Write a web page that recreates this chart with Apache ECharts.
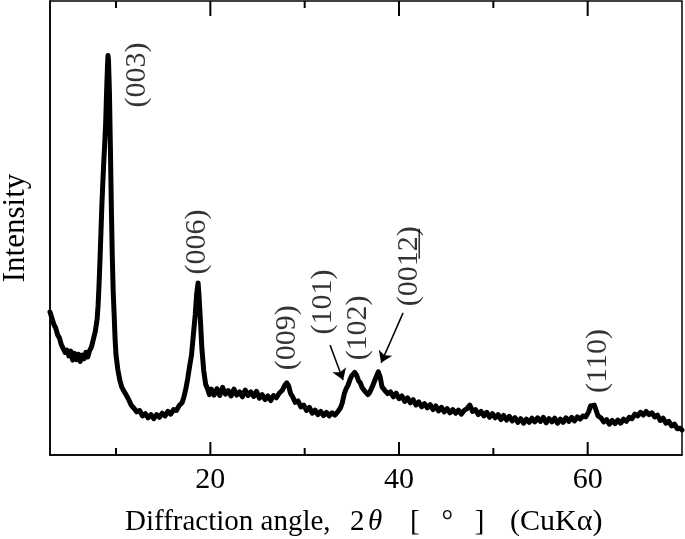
<!DOCTYPE html>
<html>
<head>
<meta charset="utf-8">
<script src="https://cdn.jsdelivr.net/npm/echarts@6/dist/echarts.min.js"></script>
<style>
  html, body { margin: 0; padding: 0; background: #fff; }
  #chart { width: 685px; height: 539px; }
</style>
</head>
<body>
<div id="chart"></div>
<script>
// XRD scan, [2theta (deg), intensity (a.u.)]
const scanPoints = [
  [3.0,31.5],[3.2,30.2],[3.4,28.8],[3.6,28.0],[3.8,26.5],[4.0,25.8],[4.2,24.3],[4.4,24.0],
  [4.6,22.6],[4.8,23.1],[5.0,21.8],[5.2,22.9],[5.4,20.9],[5.6,22.4],[5.8,21.0],[6.0,22.2],
  [6.2,20.6],[6.4,22.0],[6.6,21.2],[6.8,22.6],[7.0,21.6],[7.2,23.0],[7.4,23.8],[7.6,25.5],
  [7.8,27.2],[8.0,30.0],[8.1,33.0],[8.2,37.5],[8.3,43.0],[8.4,49.0],[8.5,55.0],[8.6,60.0],
  [8.7,64.5],[8.8,68.5],[8.9,73.0],[9.0,80.0],[9.1,86.0],[9.15,88.0],[9.2,87.0],[9.3,80.0],
  [9.4,68.0],[9.5,55.0],[9.6,44.0],[9.7,36.0],[9.8,31.0],[9.9,25.5],[10.0,22.0],[10.2,18.7],
  [10.4,16.5],[10.6,15.0],[10.8,14.2],[11.0,13.5],[11.3,12.4],[11.6,11.0],[11.9,10.3],[12.2,9.5],
  [12.5,9.8],[12.8,8.6],[13.1,9.1],[13.4,8.2],[13.7,8.9],[14.0,8.0],[14.3,8.9],[14.6,8.3],
  [14.9,9.2],[15.2,8.6],[15.5,9.6],[15.8,9.0],[16.1,10.0],[16.4,9.8],[16.7,10.9],[17.0,11.5],
  [17.2,12.8],[17.4,14.6],[17.6,16.8],[17.8,19.5],[18.0,22.0],[18.2,26.5],[18.4,31.0],[18.55,35.5],
  [18.7,37.9],[18.8,35.0],[18.95,29.5],[19.1,23.5],[19.3,18.5],[19.5,15.6],[19.7,14.6],[19.9,13.3],
  [20.1,14.5],[20.4,13.2],[20.7,14.6],[21.0,13.1],[21.3,14.9],[21.6,13.4],[21.9,14.2],[22.2,13.0],
  [22.5,14.5],[22.8,13.2],[23.1,13.9],[23.4,12.8],[23.7,14.3],[24.0,13.1],[24.3,13.9],[24.6,12.9],
  [24.9,14.0],[25.2,12.5],[25.5,13.3],[25.8,12.2],[26.1,13.0],[26.4,12.0],[26.7,13.1],[27.0,12.6],
  [27.3,13.6],[27.6,14.2],[27.9,15.4],[28.1,15.9],[28.3,15.2],[28.5,13.6],[28.7,12.9],[29.0,11.6],
  [29.3,11.9],[29.6,10.6],[29.9,11.0],[30.2,9.8],[30.5,10.5],[30.8,9.2],[31.1,9.9],[31.4,8.9],
  [31.7,9.6],[32.0,8.7],[32.3,9.4],[32.6,8.6],[32.9,9.3],[33.2,8.8],[33.5,9.5],[33.8,10.4],
  [34.0,11.6],[34.2,13.5],[34.4,14.6],[34.6,15.4],[34.8,16.6],[35.0,17.5],[35.3,18.2],[35.5,17.6],
  [35.7,16.4],[35.9,15.9],[36.1,14.8],[36.4,14.0],[36.7,13.3],[36.9,13.8],[37.2,15.2],[37.5,16.8],
  [37.8,18.3],[38.0,17.2],[38.2,15.0],[38.5,14.2],[38.8,13.5],[39.1,13.9],[39.4,12.8],[39.7,13.6],
  [40.0,12.4],[40.3,13.0],[40.6,11.8],[40.9,12.6],[41.2,11.5],[41.5,12.2],[41.8,11.0],[42.1,11.7],
  [42.4,10.6],[42.7,11.3],[43.0,10.4],[43.3,11.1],[43.6,10.0],[43.9,10.8],[44.2,9.7],[44.5,10.5],
  [44.8,9.5],[45.1,10.2],[45.4,9.3],[45.7,10.0],[46.0,9.2],[46.3,9.9],[46.6,9.0],[46.9,9.8],
  [47.2,10.2],[47.5,11.0],[47.8,9.6],[48.1,10.0],[48.4,8.9],[48.7,9.6],[49.0,8.6],[49.3,9.4],
  [49.6,8.3],[49.9,9.1],[50.2,8.2],[50.5,8.9],[50.8,7.8],[51.1,8.7],[51.4,7.7],[51.7,8.5],
  [52.0,7.5],[52.3,8.2],[52.6,7.2],[52.9,8.0],[53.2,7.0],[53.5,7.9],[53.8,7.2],[54.1,8.1],
  [54.4,7.3],[54.7,8.2],[55.0,7.4],[55.3,8.3],[55.6,7.1],[55.9,8.0],[56.2,7.3],[56.5,8.1],
  [56.8,7.0],[57.1,7.9],[57.4,7.2],[57.7,8.2],[58.0,7.4],[58.3,8.3],[58.6,7.5],[58.9,8.4],
  [59.2,7.9],[59.5,8.6],[59.8,8.4],[60.1,9.5],[60.3,10.8],[60.5,11.2],[60.7,11.0],[60.9,9.8],
  [61.1,8.6],[61.4,8.2],[61.7,7.3],[62.0,7.8],[62.3,6.8],[62.6,7.6],[62.9,6.9],[63.2,7.7],
  [63.5,7.0],[63.8,7.9],[64.1,7.4],[64.4,8.3],[64.7,8.0],[65.0,9.0],[65.3,8.6],[65.6,9.4],
  [65.9,8.8],[66.2,9.6],[66.5,8.9],[66.8,9.3],[67.1,8.4],[67.4,8.8],[67.7,7.6],[68.0,8.1],
  [68.3,7.0],[68.6,7.4],[68.9,6.4],[69.2,6.8],[69.5,5.8],[69.8,5.9],[70.0,5.5]
];

// reflection labels and where their centres sit (data coords)
const peakNames = ['(003)', '(006)', '(009)', '(101)', '(102)', '(001\u03322\u0332)', '(110)'];
const peakLabelPos = [[12.2,83.7],[18.6,46.9],[28.1,25.8],[31.95,33.7],[35.66,28.0],[41.07,41.6],[61.1,20.7]];

// arrows [from, to]
const arrows = [
  [[32.69,24.2],[34.07,16.5]],
  [[40.43,31.3],[38.1,20.3]]
];

const majorTicks = [20, 40, 60];
const minorTicks = [10, 30, 50];
const yMin = 0, yMax = 100;

const FONT = "'Liberation Serif', 'DejaVu Serif', serif";
const myChart = echarts.init(document.getElementById('chart'));

// tick rows: [value, bottom length px, top length px]
const tickRows = majorTicks.map(v => [v, 13, 15]).concat(minorTicks.map(v => [v, 7, 7]));

const txt = (size, extra) => Object.assign({ fontFamily: FONT, fontSize: size, color: '#000' }, extra || {});

const option = {
  animation: false,
  backgroundColor: '#fff',
  grid: {
    left: 50, right: 3, top: 1, bottom: 84,
    outerBoundsMode: 'none', containLabel: false,
    show: true, borderColor: '#000', borderWidth: 1.5
  },
  xAxis: {
    type: 'value', min: 3, max: 70,
    splitLine: { show: false },
    axisLine: { show: true, onZero: false, lineStyle: { color: '#000', width: 1.5 } },
    axisTick: { show: false },
    axisLabel: Object.assign({ show: true, customValues: majorTicks, margin: 10 }, txt(30)),
    name: '{a|Diffraction angle,}{b|2}{c|\u03b8}{d|[   \u00b0   ]}{e|(CuK\u03b1)}',
    nameLocation: 'middle', nameGap: 52,
    nameTextStyle: txt(29, {
      rich: {
        a: txt(29, { width: 225, align: 'left' }),
        b: txt(29, { width: 18, align: 'left' }),
        c: txt(29, { fontStyle: 'italic', width: 42, align: 'left' }),
        d: txt(29, { width: 100, align: 'left' }),
        e: txt(30, { width: 97, align: 'left' })
      }
    })
  },
  yAxis: {
    type: 'value', min: yMin, max: yMax,
    splitLine: { show: false },
    axisLine: { show: true, lineStyle: { color: '#000', width: 1.5 } },
    axisTick: { show: false }, axisLabel: { show: false },
    name: 'Intensity', nameLocation: 'middle', nameGap: 19, nameRotate: 90,
    nameTextStyle: txt(31)
  },
  series: [
    {
      type: 'line',
      data: scanPoints,
      showSymbol: false,
      symbol: 'none',
      lineStyle: { color: '#000', width: 5, join: 'round', cap: 'round' },
      markLine: {
        silent: true,
        symbol: ['none', 'arrow'],
        symbolSize: 11,
        label: { show: false },
        lineStyle: { color: '#000', width: 1.5, type: 'solid' },
        data: arrows.map(a => [{ coord: a[0] }, { coord: a[1] }])
      }
    },
    {
      type: 'scatter',
      symbolSize: 0,
      data: peakLabelPos.map((p, i) => ({ value: p, name: peakNames[i] })),
      label: Object.assign({
        show: true, position: 'inside', rotate: 90,
        formatter: p => p.name
      }, txt(30))
    },
    {
      // inward ticks on the bottom and top frame
      type: 'custom',
      silent: true,
      z: 10,
      data: tickRows,
      encode: { x: 0 },
      renderItem: (params, api) => {
        const v = api.value(0);
        const pb = api.coord([v, yMin]);
        const pt = api.coord([v, yMax]);
        const st = { stroke: '#000', lineWidth: 2 };
        return {
          type: 'group',
          children: [
            { type: 'line', shape: { x1: pb[0], y1: pb[1], x2: pb[0], y2: pb[1] - api.value(1) }, style: st },
            { type: 'line', shape: { x1: pt[0], y1: pt[1], x2: pt[0], y2: pt[1] + api.value(2) }, style: st }
          ]
        };
      }
    }
  ]
};

myChart.setOption(option);
</script>
</body>
</html>
